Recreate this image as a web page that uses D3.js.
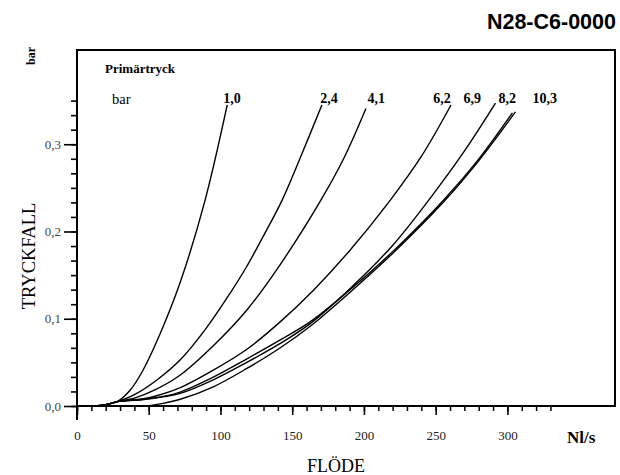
<!DOCTYPE html>
<html><head><meta charset="utf-8">
<script src="https://cdn.jsdelivr.net/npm/d3@7"></script>
<style>
html,body{margin:0;padding:0;background:#fff;}
svg{display:block;}
</style></head>
<body>
<svg id="chart" width="620" height="475"></svg>
<script>
// ---- data (flow Nl/s, pressure drop bar) ----
const pressureLabels = ["1,0","2,4","4,1","6,2","6,9","8,2","10,3"];
const curve_1_0 = [[12,0],[20,0.0015],[28,0.005],[37,0.018],[46,0.041],[58,0.083],[72,0.142],[89.3,0.236],[104.7,0.345]];
const curve_2_4 = [[12,0],[20,0.0015],[28,0.005],[40,0.013],[55,0.029],[72,0.053],[90,0.089],[107,0.130],[118,0.159],[130,0.195],[143,0.236],[157,0.290],[170.7,0.345]];
const curve_4_1 = [[12,0],[20,0.0015],[28,0.005],[40,0.009],[55,0.019],[72,0.0355],[95,0.069],[118.4,0.110],[142,0.163],[170,0.236],[186,0.284],[201.4,0.341]];
const curve_6_2 = [[12,0],[20,0.0015],[28,0.005],[45,0.008],[55,0.0115],[72,0.021],[95,0.041],[118.4,0.065],[142,0.097],[165,0.133],[190,0.178],[218.4,0.236],[240,0.286],[260.7,0.345]];
const curve_6_9 = [[12,0],[20,0.0015],[28,0.005],[45,0.0075],[60,0.011],[72,0.016],[95,0.033],[118.4,0.054],[142,0.076],[163,0.097],[188,0.130],[222,0.180],[255.6,0.236],[280,0.283],[303.5,0.336]];
const curve_8_2 = [[12,0],[20,0.0015],[28,0.005],[45,0.007],[60,0.0105],[72,0.0145],[95,0.030],[118.4,0.050],[142,0.072],[163,0.095],[188,0.131],[220,0.184],[245.2,0.236],[270,0.292],[291.7,0.347]];
const curve_10_3 = [[48,0],[60,0.003],[72,0.0077],[95,0.022],[118.4,0.043],[142,0.067],[163,0.092],[188,0.127],[222,0.178],[255.6,0.234],[280,0.281],[305.6,0.337]];
const curves = [curve_1_0,curve_2_4,curve_4_1,curve_6_2,curve_6_9,curve_8_2,curve_10_3];
const xTickLabels = [0,50,100,150,200,250,300];
const yTickLabels = ["0,0","0,1","0,2","0,3"];
const yMajorValues = [0,0.1,0.2,0.3];

(function(){
// ---- layout ----
const svg = d3.select("#chart");
const pL = 77, pR = 615, pT = 50, pB = 406;
const x = d3.scaleLinear().domain([0,375]).range([pL, pR]);
const y = d3.scaleLinear().domain([0,0.408]).range([pB, pT]);
const serif = "'Liberation Serif','Times New Roman',serif";
const sans = "'Liberation Sans',Arial,sans-serif";

svg.append("rect").attr("width",620).attr("height",475).attr("fill","#fff");

// title
svg.append("text").attr("x",616).attr("y",29).attr("text-anchor","end")
  .attr("font-family",sans).attr("font-weight","bold").attr("font-size",21.5).attr("fill","#000")
  .text("N28-C6-0000");

// frame
svg.append("rect").attr("x",pL).attr("y",pT).attr("width",pR-pL).attr("height",pB-pT)
  .attr("fill","none").attr("stroke","#000").attr("stroke-width",2);

// y axis ticks (every 1/60 up to 0.35)
const yMinor = d3.range(0, 22).map(i => i/60).filter(v => v <= 0.351);
const yAxis = d3.axisLeft(y).tickValues(yMinor).tickSize(6).tickFormat("");
const gy = svg.append("g").attr("transform",`translate(${pL},0)`).call(yAxis);
gy.select(".domain").remove();
gy.selectAll("line").attr("stroke","#000").attr("stroke-width",1.6);
const yMajAxis = d3.axisLeft(y).tickValues(yMajorValues).tickSize(13).tickPadding(3)
  .tickFormat((d,i)=>yTickLabels[i]);
const gy2 = svg.append("g").attr("transform",`translate(${pL},0)`).call(yMajAxis);
gy2.select(".domain").remove();
gy2.selectAll("line").attr("stroke","#000").attr("stroke-width",1.6);
gy2.selectAll("text").attr("font-family",serif).attr("font-size",13).attr("fill","#444");

// extension of y axis below the x axis
svg.append("line").attr("x1",pL).attr("x2",pL).attr("y1",pB).attr("y2",pB+14)
  .attr("stroke","#000").attr("stroke-width",2);

// x axis ticks
const xMinor = d3.range(0, 340, 10);
const xAxis = d3.axisBottom(x).tickValues(xMinor).tickSize(5).tickFormat("");
const gx = svg.append("g").attr("transform",`translate(0,${pB})`).call(xAxis);
gx.select(".domain").remove();
gx.selectAll("line").attr("stroke","#000").attr("stroke-width",1.5);
const xMajAxis = d3.axisBottom(x).tickValues(xTickLabels).tickSize(9).tickPadding(16)
  .tickFormat(d3.format("d"));
const gx2 = svg.append("g").attr("transform",`translate(0,${pB})`).call(xMajAxis);
gx2.select(".domain").remove();
gx2.selectAll("line").attr("stroke","#000").attr("stroke-width",1.6);
gx2.selectAll("text").attr("font-family",serif).attr("font-size",13).attr("fill","#222");

// axis titles
svg.append("text").attr("x",567).attr("y",443).attr("fill","#000")
  .attr("font-family",serif).attr("font-weight","bold").attr("font-size",17).text("Nl/s");
svg.append("text").attr("x",336).attr("y",472).attr("text-anchor","middle").attr("fill","#000")
  .attr("font-family",serif).attr("font-size",18).text("FLÖDE");
svg.append("text").attr("transform","translate(35,256) rotate(-90)").attr("text-anchor","middle").attr("fill","#000")
  .attr("font-family",serif).attr("font-size",18.5).text("TRYCKFALL");
svg.append("text").attr("transform","translate(35,56) rotate(-90)").attr("text-anchor","middle").attr("fill","#000")
  .attr("font-family",serif).attr("font-weight","bold").attr("font-size",12).text("bar");

// legend header
svg.append("text").attr("x",105).attr("y",73).attr("fill","#000")
  .attr("font-family",serif).attr("font-weight","bold").attr("font-size",13).text("Primärtryck");
svg.append("text").attr("x",112).attr("y",104).attr("fill","#000")
  .attr("font-family",serif).attr("font-size",14.5).text("bar");

// curves
const line = d3.line().x(d=>x(d[0])).y(d=>y(d[1])).curve(d3.curveCatmullRom.alpha(0.5));
svg.append("g").selectAll("path").data(curves).join("path")
  .attr("d",line).attr("fill","none").attr("stroke","#000").attr("stroke-width",1.4);

// curve labels
const labelFlow = [101.9,169.6,202.4,248.4,269.4,293.8,317.5];
svg.append("g").selectAll("text").data(pressureLabels).join("text")
  .attr("x",(d,i)=>x(labelFlow[i])).attr("y",y(0.347)).attr("fill","#000")
  .attr("font-family",serif).attr("font-weight","bold").attr("font-size",14)
  .text(d=>d);
})();
</script>
</body></html>
